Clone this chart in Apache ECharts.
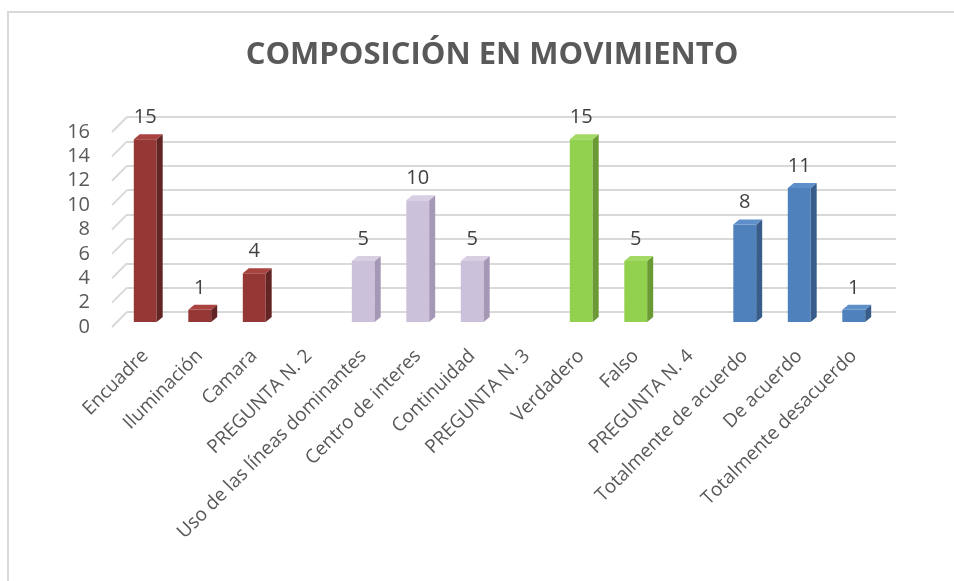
<!DOCTYPE html>
<html>
<head>
<meta charset="utf-8">
<script src="https://cdn.jsdelivr.net/npm/echarts@6/dist/echarts.min.js"></script>
<style>
  html, body { margin: 0; padding: 0; background: #fff; }
  #chart { width: 954px; height: 581px; }
</style>
</head>
<body>
<div id="chart"></div>
<script>
const categories = [
  "Encuadre", "Iluminación", "Camara", "PREGUNTA N. 2",
  "Uso de las líneas dominantes", "Centro de interes", "Continuidad", "PREGUNTA N. 3",
  "Verdadero", "Falso", "PREGUNTA N. 4",
  "Totalmente de acuerdo", "De acuerdo", "Totalmente desacuerdo"
];
const values = [15, 1, 4, null, 5, 10, 5, null, 15, 5, null, 8, 11, 1];
const groupOf = [0, 0, 0, null, 1, 1, 1, null, 2, 2, null, 3, 3, 3];
const yTicks = [0, 2, 4, 6, 8, 10, 12, 14, 16];

// front, side, top colours per group
const palette = [
  { front: "#953735", side: "#632523", top: "#a8433f" },
  { front: "#ccc1da", side: "#a598b6", top: "#d8cfe3" },
  { front: "#92d050", side: "#6b9a35", top: "#a3da66" },
  { front: "#4f81bd", side: "#385d8a", top: "#5f8fc8" }
];

const DX = 6, DY = -5;       // bar depth
const WX = 15, WY = 15;      // wall depth

const chart = echarts.init(document.getElementById("chart"));

const barData = values.map((v, i) => [i, v === null ? '-' : v, groupOf[i] === null ? 0 : groupOf[i]]);

const renderBar = (params, api) => {
  const v = api.value(1);
  if (isNaN(v)) return;
  const g = palette[api.value(2)];
  const top = api.coord([api.value(0), v]);
  const base = api.coord([api.value(0), 0]);
  const w = api.size([1, 0])[0] * 0.42;
  const x0 = top[0] - w / 2, x1 = top[0] + w / 2;
  const y0 = top[1], y1 = base[1];
  return {
    type: "group",
    children: [
      { type: "rect", shape: { x: x0, y: y0, width: w, height: y1 - y0 }, style: { fill: g.front } },
      { type: "polygon", shape: { points: [[x1, y0], [x1 + DX, y0 + DY], [x1 + DX, y1 + DY], [x1, y1]] }, style: { fill: g.side } },
      { type: "polygon", shape: { points: [[x0, y0], [x0 + DX, y0 + DY], [x1 + DX, y0 + DY], [x1, y0]] }, style: { fill: g.top } },
      { type: "text", style: { text: String(v), x: top[0], y: y0 + DY - 7, align: "center", verticalAlign: "bottom",
        fill: "#404040", fontSize: 20, fontFamily: "Open Sans" } }
    ]
  };
};

const renderWall = (params, api) => {
  const p = api.coord([0, api.value(1)]);
  return {
    type: "line",
    shape: { x1: p[0], y1: p[1], x2: p[0] - WX, y2: p[1] + WY },
    style: { stroke: "#d9d9d9", lineWidth: 2 }
  };
};

const options = {
  animation: false,
  title: {
    text: "COMPOSICIÓN EN MOVIMIENTO",
    left: 487,
    top: 35,
    textAlign: "center",
    textStyle: { color: "#595959", fontSize: 31, fontWeight: "bold", fontFamily: "Open Sans" }
  },
  graphic: [
    { type: "rect", shape: { x: 8, y: 12, width: 960, height: 590 }, style: { fill: null, stroke: "#d9d9d9", lineWidth: 2 }, silent: true }
  ],
  grid: [
    // back wall
    { left: 127, right: 58, top: 117, bottom: 269 },
    // bars
    { left: 118, right: 73, top: 127, bottom: 259 },
    // axis labels (front edge)
    { left: 112, right: 73, top: 132, bottom: 254 }
  ],
  xAxis: [
    { gridIndex: 0, type: "value", min: 0, max: 1, show: false },
    {
      gridIndex: 1, type: "category", data: categories,
      axisLine: { show: false }, axisTick: { show: false },
      axisLabel: { interval: 0, rotate: 45, margin: 31, color: "#595959", fontSize: 19, fontFamily: "Open Sans" }
    },
    { gridIndex: 2, type: "value", min: 0, max: 1, show: false }
  ],
  yAxis: [
    {
      gridIndex: 0, type: "value", min: 0, max: 16, interval: 2,
      axisLine: { show: false }, axisTick: { show: false }, axisLabel: { show: false },
      splitLine: { lineStyle: { color: "#d9d9d9", width: 2 } }
    },
    { gridIndex: 1, type: "value", min: 0, max: 16, interval: 2, show: false },
    {
      gridIndex: 2, type: "value", min: 0, max: 16, interval: 2,
      axisLine: { show: false }, axisTick: { show: false }, splitLine: { show: false },
      axisLabel: { margin: 22, color: "#595959", fontSize: 20, fontFamily: "Open Sans" }
    }
  ],
  series: [
    {
      type: "custom", xAxisIndex: 0, yAxisIndex: 0,
      renderItem: renderWall,
      data: yTicks.map(t => [0, t]),
      silent: true
    },
    {
      type: "custom", xAxisIndex: 1, yAxisIndex: 1,
      renderItem: renderBar,
      data: barData,
      encode: { x: 0, y: 1 }
    }
  ]
};

chart.setOption(options);
</script>
</body>
</html>
